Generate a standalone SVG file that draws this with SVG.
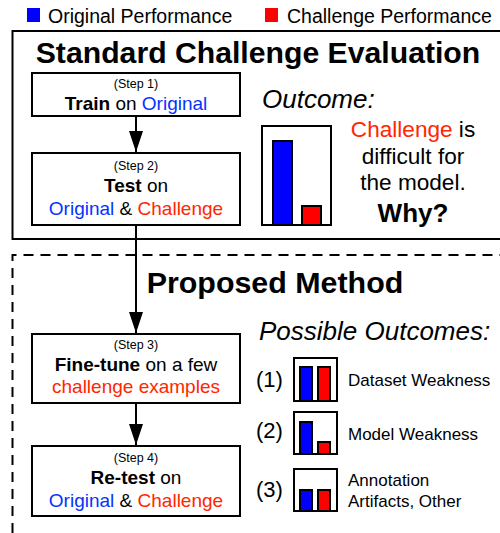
<svg xmlns="http://www.w3.org/2000/svg" width="500" height="533" viewBox="0 0 500 533">
<defs>
<style>
text{font-family:"Liberation Sans",Arial,sans-serif;fill:#000}
.box{fill:#fff;stroke:#000;stroke-width:2}
.chart{fill:#fff;stroke:#000;stroke-width:2}
.bb{fill:#0000ff;stroke:#000;stroke-width:2}
.rb{fill:#ff0000;stroke:#000;stroke-width:2}
.step{font-size:12.5px;text-anchor:middle}
.main{font-size:19px;text-anchor:middle}
.b{font-weight:bold}
.blue{fill:#0433ff}
.red{fill:#ff2600}
.big{font-size:22px}
.rt{font-size:22.6px;text-anchor:middle}
.it{font-size:26px;font-style:italic}
.lab{font-size:17px}
.leg{font-size:19.5px}
.edge{stroke:#000;stroke-width:2;fill:none}
</style>
<marker id="ah" viewBox="0 0 21 14" refX="21" refY="7" markerWidth="21" markerHeight="14" markerUnits="userSpaceOnUse" orient="auto">
<path d="M0,0 L21,7 L0,14 Z" fill="#000"/>
</marker>
</defs>
<g id="legend">
<rect x="27" y="8" width="13" height="14" fill="#0000ff"/>
<text x="48" y="23" class="leg">Original Performance</text>
<rect x="265" y="8" width="13" height="14" fill="#ff0000"/>
<text x="287" y="23" class="leg">Challenge Performance</text>
</g>
<g id="standard">
<rect x="12.5" y="31" width="500" height="208" fill="none" stroke="#000" stroke-width="2"/>
<text x="258" y="62.5" class="b" style="font-size:30.2px" text-anchor="middle">Standard Challenge Evaluation</text>
</g>
<g id="proposed">
<path d="M12.5,533 V255 H500" fill="none" stroke="#000" stroke-width="2" stroke-dasharray="10,7"/>
<text x="275" y="292.5" class="b" style="font-size:30.4px" text-anchor="middle">Proposed Method</text>
</g>
<g id="connectors">
<path class="edge" d="M136,116 V152" marker-end="url(#ah)"/>
<path class="edge" d="M136,225 V333" marker-end="url(#ah)"/>
<path class="edge" d="M136,403 V445" marker-end="url(#ah)"/>
</g>
<g id="step1">
<rect class="box" x="32" y="73" width="208" height="43"/>
<text class="step" x="136" y="88">(Step 1)</text>
<text class="main" x="136" y="110"><tspan class="b">Train</tspan> on <tspan class="blue">Original</tspan></text>
</g>
<g id="step2">
<rect class="box" x="32" y="153" width="208" height="72"/>
<text class="step" x="136" y="170">(Step 2)</text>
<text class="main" x="136" y="192"><tspan class="b">Test</tspan> on</text>
<text class="main" x="136" y="215"><tspan class="blue">Original</tspan> &amp; <tspan class="red">Challenge</tspan></text>
</g>
<g id="step3">
<rect class="box" x="32" y="334" width="208" height="69"/>
<text class="step" x="136" y="349">(Step 3)</text>
<text class="main" x="136" y="371"><tspan class="b">Fine-tune</tspan> on a few</text>
<text class="main" x="136" y="393"><tspan class="red">challenge examples</tspan></text>
</g>
<g id="step4">
<rect class="box" x="32" y="446" width="208" height="70"/>
<text class="step" x="136" y="462">(Step 4)</text>
<text class="main" x="136" y="484"><tspan class="b">Re-test</tspan> on</text>
<text class="main" x="136" y="507"><tspan class="blue">Original</tspan> &amp; <tspan class="red">Challenge</tspan></text>
</g>
<g id="outcome">
<text x="262" y="108" class="it">Outcome:</text>
<path class="chart" d="M262,126 H331 V225 H262 Z"/>
<rect class="bb" x="273" y="141" width="19" height="84"/>
<rect class="rb" x="302" y="206" width="19" height="19"/>
<text x="413" y="137" class="rt"><tspan class="red">Challenge</tspan> is</text>
<text x="413" y="164" class="rt">difficult for</text>
<text x="413" y="190" class="rt">the model.</text>
<text x="413" y="222" class="b" style="font-size:26px" text-anchor="middle">Why?</text>
</g>
<g id="possible">
<text x="259" y="340" class="it">Possible Outcomes:</text>
</g>
<g id="outcome1">
<text x="256" y="387" class="big">(1)</text>
<rect class="chart" x="294" y="358" width="43" height="43"/>
<rect class="bb" x="300" y="367" width="12" height="34"/>
<rect class="rb" x="318" y="367" width="12" height="34"/>
<text x="348" y="386" class="lab">Dataset Weakness</text>
</g>
<g id="outcome2">
<text x="256" y="438" class="big">(2)</text>
<rect class="chart" x="294" y="412" width="43" height="42"/>
<rect class="bb" x="300" y="422" width="12" height="32"/>
<rect class="rb" x="318" y="442" width="12" height="12"/>
<text x="348" y="440" class="lab">Model Weakness</text>
</g>
<g id="outcome3">
<text x="256" y="497" class="big">(3)</text>
<rect class="chart" x="294" y="469" width="43" height="42"/>
<rect class="bb" x="300" y="490" width="12" height="21"/>
<rect class="rb" x="318" y="490" width="12" height="21"/>
<text x="348" y="486" class="lab">Annotation</text>
<text x="348" y="507" class="lab">Artifacts, Other</text>
</g>
</svg>
